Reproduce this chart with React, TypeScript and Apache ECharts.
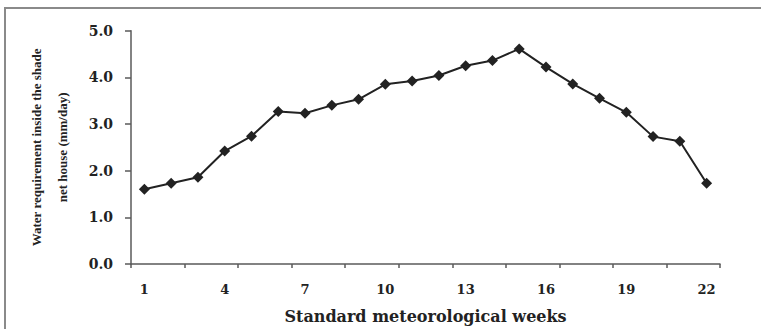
import React, { useEffect, useRef } from "react";
import * as echarts from "echarts";

const weeks = ["1", "2", "3", "4", "5", "6", "7", "8", "9", "10", "11", "12", "13", "14", "15", "16", "17", "18", "19", "20", "21", "22"];
const waterRequirement = [1.60, 1.73, 1.86, 2.42, 2.74, 3.27, 3.23, 3.40, 3.53, 3.85, 3.92, 4.04, 4.25, 4.36, 4.61, 4.22, 3.86, 3.55, 3.25, 2.73, 2.63, 1.73];
const yTitle = "Water requirement inside the shade\nnet house (mm/day)";
const xTitle = "Standard meteorological weeks";

export default function App() {
  const ref = useRef<HTMLDivElement>(null);
  useEffect(() => {
    if (!ref.current) return;
    const chart = echarts.init(ref.current, null, { renderer: "svg" });
    const axisColor = "#5a5a5a";
    const textColor = "#222";
    chart.setOption({
      animation: false,
      backgroundColor: "#fff",
      graphic: [
        {
          type: "rect",
          shape: { x: 5, y: 8, width: 800, height: 400 },
          style: { fill: "none", stroke: "#8a8a8a", lineWidth: 2 },
          silent: true,
        },
      ],
      grid: { left: 131, right: 41, top: 30.7, bottom: 62.3 },
      xAxis: {
        type: "category",
        data: weeks,
        boundaryGap: true,
        name: xTitle,
        nameLocation: "middle",
        nameGap: 44,
        nameTextStyle: { fontFamily: "DejaVu Serif", fontWeight: "bold", fontSize: 16, color: textColor },
        axisLine: { lineStyle: { color: axisColor, width: 1.5 } },
        axisTick: { show: true, interval: 1, alignWithLabel: false, length: 4, lineStyle: { color: axisColor, width: 1.5 } },
        axisLabel: { interval: 2, margin: 19, fontFamily: "DejaVu Serif", fontWeight: "bold", fontSize: 13, color: textColor },
        splitLine: { show: false },
      },
      yAxis: {
        type: "value",
        min: 0,
        max: 5,
        interval: 1,
        name: yTitle,
        nameLocation: "middle",
        nameGap: 56,
        nameRotate: 90,
        nameTextStyle: { fontFamily: "Liberation Serif", fontWeight: "bold", fontSize: 13, lineHeight: 26, color: textColor },
        axisLine: { show: true, lineStyle: { color: axisColor, width: 1.5 } },
        axisTick: { show: true, length: 6, lineStyle: { color: axisColor, width: 1.5 } },
        axisLabel: { margin: 18, fontFamily: "DejaVu Serif", fontWeight: "bold", fontSize: 14, color: textColor, formatter: (v: number) => v.toFixed(1) },
        splitLine: { show: false },
      },
      series: [
        {
          type: "line",
          data: waterRequirement,
          symbol: "diamond",
          symbolSize: 11,
          lineStyle: { color: "#222", width: 2 },
          itemStyle: { color: "#222" },
        },
      ],
    });
    return () => chart.dispose();
  }, []);
  return <div ref={ref} style={{ position: "fixed", left: 0, top: 0, width: 761, height: 329 }} />;
}
